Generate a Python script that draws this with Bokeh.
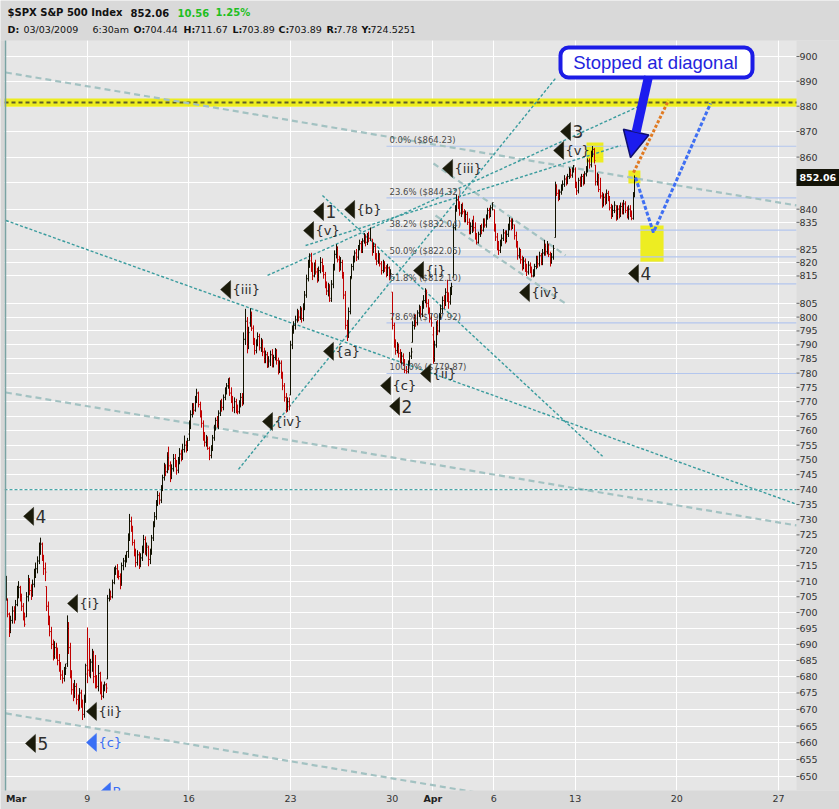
import math
from bokeh.plotting import figure
from bokeh.models import (Range1d, FixedTicker, Label, BoxAnnotation, Arrow, NormalHead,
                          ColumnDataSource)
from bokeh.core.properties import value
from bokeh.embed import file_html
from bokeh.resources import INLINE

# ---------------- data (30-minute bars, 13 per session) ----------------
dates = ["2009-03-03", "2009-03-04", "2009-03-05", "2009-03-06", "2009-03-09", "2009-03-10",
         "2009-03-11", "2009-03-12", "2009-03-13", "2009-03-16", "2009-03-17", "2009-03-18",
         "2009-03-19", "2009-03-20", "2009-03-23", "2009-03-24", "2009-03-25", "2009-03-26",
         "2009-03-27", "2009-03-30", "2009-03-31", "2009-04-01", "2009-04-02", "2009-04-03",
         "2009-04-06", "2009-04-07", "2009-04-08", "2009-04-09", "2009-04-13", "2009-04-14",
         "2009-04-15"]
prev_close = 700.82

opens = [
 [704.4, 703.9, 699.5, 694.0, 697.5, 700.5, 698.0, 702.5, 706.5, 708.0, 705.0, 702.0, 699.0],
 [698.6, 705.0, 709.5, 707.0, 706.0, 709.0, 712.5, 714.0, 716.5, 720.5, 722.0, 718.0, 714.0],
 [708.3, 702.0, 697.5, 694.0, 690.0, 686.5, 689.0, 687.5, 685.0, 683.5, 680.5, 679.5, 681.0],
 [684.0, 695.0, 689.0, 680.5, 676.0, 674.5, 677.0, 673.0, 671.0, 675.0, 672.0, 668.5, 673.0],
 [680.8, 682.0, 681.0, 684.5, 687.5, 680.0, 678.5, 677.0, 681.0, 676.0, 674.0, 676.5, 677.5],
 [679.3, 704.5, 706.5, 705.0, 709.5, 713.5, 714.0, 712.0, 711.5, 709.0, 715.0, 716.5, 717.0],
 [719.6, 724.0, 729.5, 727.0, 722.5, 719.0, 716.0, 718.5, 715.0, 717.5, 720.0, 723.5, 719.5],
 [720.9, 717.0, 719.5, 724.0, 728.5, 731.0, 735.5, 738.0, 736.5, 740.5, 744.0, 747.5, 746.0],
 [752.0, 748.0, 744.5, 747.0, 750.5, 749.0, 746.5, 749.5, 752.0, 751.0, 753.5, 755.0, 754.0],
 [758.8, 762.0, 765.5, 768.0, 767.0, 770.5, 773.0, 769.0, 766.0, 762.5, 758.0, 756.0, 757.0],
 [753.9, 751.5, 754.0, 757.5, 761.0, 763.5, 762.0, 766.0, 769.5, 768.0, 771.5, 774.0, 775.5],
 [776.0, 773.0, 770.5, 768.0, 770.0, 767.5, 766.5, 769.0, 771.5, 770.0, 792.0, 798.5, 790.0],
 [797.9, 800.5, 796.0, 791.5, 788.0, 790.5, 793.0, 789.0, 791.0, 787.5, 785.0, 786.5, 782.5],
 [784.6, 786.5, 783.0, 785.5, 788.0, 784.5, 781.0, 783.5, 779.5, 775.5, 771.5, 767.5, 770.0],
 [772.3, 790.0, 795.5, 797.0, 799.0, 801.5, 800.0, 802.5, 799.5, 803.5, 808.0, 814.0, 819.5],
 [820.6, 818.5, 815.0, 819.0, 816.5, 814.0, 817.0, 820.0, 818.0, 815.5, 812.0, 809.5, 811.0],
 [806.8, 812.0, 818.5, 823.0, 825.5, 821.0, 818.0, 820.0, 815.0, 808.0, 797.0, 793.5, 802.0],
 [814.1, 818.5, 821.0, 823.5, 822.0, 825.5, 827.0, 824.5, 828.0, 829.5, 827.5, 830.0, 829.0],
 [828.7, 824.5, 826.0, 822.0, 820.5, 823.0, 819.5, 817.0, 819.5, 818.0, 816.0, 818.0, 815.0],
 [809.1, 797.0, 790.5, 788.0, 789.5, 787.0, 784.5, 786.0, 783.5, 781.0, 780.5, 783.0, 786.0],
 [790.9, 797.0, 799.5, 798.0, 801.5, 803.0, 801.0, 804.5, 806.0, 808.5, 805.0, 802.5, 799.5],
 [793.6, 785.5, 790.0, 797.0, 795.0, 800.5, 803.0, 806.0, 805.0, 809.0, 807.0, 805.5, 809.5],
 [814.5, 833.0, 840.0, 843.5, 841.0, 838.5, 841.5, 839.0, 836.5, 838.0, 835.0, 832.0, 833.5],
 [835.1, 833.0, 829.5, 827.5, 830.5, 833.0, 832.0, 835.5, 834.0, 837.0, 839.5, 838.0, 840.5],
 [839.8, 833.0, 829.5, 826.0, 824.5, 827.0, 829.0, 831.0, 828.5, 830.5, 833.0, 835.5, 833.5],
 [834.1, 830.0, 826.5, 822.5, 824.0, 821.0, 818.5, 820.5, 818.0, 816.5, 819.0, 817.5, 815.0],
 [816.8, 818.5, 821.0, 819.5, 822.5, 820.0, 823.5, 826.0, 824.0, 826.5, 823.0, 820.5, 822.0],
 [829.3, 848.5, 846.0, 844.5, 846.5, 848.0, 849.5, 851.5, 850.0, 852.5, 854.5, 853.0, 855.0],
 [855.3, 849.0, 847.0, 851.0, 849.5, 852.5, 850.0, 853.5, 855.0, 858.5, 857.0, 861.5, 863.0],
 [856.9, 850.5, 852.0, 847.5, 845.0, 842.0, 844.5, 843.0, 846.0, 844.0, 840.5, 838.0, 839.5],
 [839.4, 837.5, 840.0, 838.0, 841.0, 839.0, 842.0, 839.5, 837.5, 840.0, 838.0, 836.5, 845.0],
]
highs = [
 [711.7, 704.5, 700.0, 699.0, 702.0, 702.0, 704.0, 708.5, 710.0, 708.5, 706.0, 703.0, 700.0],
 [706.5, 712.0, 711.0, 709.0, 710.5, 714.0, 716.0, 718.0, 722.5, 724.1, 722.5, 718.5, 716.0],
 [708.3, 703.5, 699.0, 695.5, 691.5, 691.0, 690.5, 689.0, 687.0, 684.5, 682.0, 683.0, 684.0],
 [699.1, 697.0, 690.5, 682.0, 678.0, 679.0, 678.0, 674.5, 676.5, 676.0, 673.0, 674.5, 684.0],
 [695.3, 692.0, 685.5, 688.6, 688.0, 686.7, 680.5, 683.6, 681.5, 678.5, 677.6, 678.5, 678.0],
 [705.6, 707.6, 707.0, 710.5, 714.5, 715.0, 715.5, 713.5, 712.5, 716.0, 717.5, 718.5, 719.6],
 [725.5, 731.9, 731.0, 728.0, 723.5, 720.5, 720.0, 719.5, 719.0, 721.5, 725.0, 724.5, 722.5],
 [721.5, 720.5, 725.0, 729.5, 732.5, 736.5, 739.5, 739.0, 741.5, 745.0, 749.0, 748.5, 752.6],
 [754.5, 749.5, 748.5, 752.0, 752.0, 750.0, 751.0, 754.0, 753.5, 755.5, 758.3, 756.5, 757.5],
 [763.5, 767.0, 769.5, 769.5, 772.0, 774.5, 773.5, 770.0, 767.0, 763.5, 759.5, 758.5, 758.0],
 [754.5, 755.0, 758.5, 762.0, 764.5, 765.0, 767.0, 770.5, 771.0, 772.5, 775.0, 776.5, 778.1],
 [778.5, 775.0, 772.0, 771.5, 771.0, 769.0, 770.5, 773.0, 773.0, 794.5, 803.0, 800.0, 796.5],
 [803.2, 802.0, 797.0, 792.5, 792.0, 794.5, 794.0, 792.5, 792.0, 789.0, 788.0, 787.5, 786.0],
 [788.0, 788.5, 786.5, 788.9, 788.5, 785.5, 784.5, 784.5, 780.5, 776.5, 773.0, 771.5, 771.5],
 [791.5, 797.0, 798.5, 800.5, 803.0, 802.5, 804.0, 803.5, 805.0, 809.5, 815.5, 821.0, 823.4],
 [823.6, 820.0, 820.0, 821.0, 818.0, 818.5, 822.0, 821.5, 819.0, 816.5, 813.0, 812.5, 812.0],
 [813.5, 819.5, 824.5, 826.8, 826.0, 822.5, 822.0, 821.0, 816.5, 809.5, 799.0, 803.5, 815.0],
 [819.5, 822.5, 824.5, 825.0, 826.5, 828.5, 828.0, 829.0, 831.0, 830.5, 831.0, 831.5, 833.0],
 [828.7, 827.5, 827.0, 823.5, 824.5, 823.5, 820.5, 821.0, 820.5, 819.0, 819.5, 818.5, 817.5],
 [809.1, 798.0, 792.0, 791.0, 790.5, 788.5, 787.5, 787.0, 785.0, 782.5, 784.5, 787.5, 789.0],
 [798.5, 801.0, 801.0, 802.5, 804.5, 804.0, 806.0, 808.0, 810.5, 810.0, 806.5, 803.5, 801.0],
 [796.5, 791.5, 798.5, 799.0, 801.5, 804.5, 807.5, 808.0, 810.5, 813.6, 809.0, 811.0, 812.5],
 [834.5, 841.5, 845.6, 845.0, 843.0, 842.0, 842.5, 840.0, 839.5, 839.0, 836.5, 835.0, 836.0],
 [837.5, 835.0, 831.0, 831.5, 834.0, 834.5, 836.5, 836.5, 838.0, 840.5, 840.5, 841.5, 842.5],
 [839.8, 834.5, 831.0, 828.0, 828.5, 830.5, 832.5, 832.0, 832.0, 834.5, 837.0, 836.5, 836.5],
 [834.1, 831.5, 828.0, 825.5, 825.0, 822.5, 822.0, 821.5, 819.5, 820.5, 820.0, 818.5, 817.5],
 [819.5, 822.5, 822.5, 824.0, 823.5, 825.0, 828.4, 827.0, 828.0, 827.0, 824.0, 823.5, 826.5],
 [850.5, 849.5, 847.5, 847.5, 849.5, 851.0, 853.0, 852.5, 853.5, 856.0, 855.5, 856.0, 856.9],
 [856.0, 850.5, 852.0, 852.5, 853.5, 853.5, 854.5, 856.5, 859.5, 859.5, 862.5, 864.3, 863.5],
 [856.9, 854.0, 853.5, 852.0, 846.5, 846.0, 846.0, 847.5, 847.0, 845.0, 842.0, 841.5, 843.0],
 [841.5, 841.5, 841.5, 842.5, 842.5, 843.5, 843.0, 841.0, 841.5, 841.5, 839.5, 846.5, 852.9],
]
lows = [
 [703.9, 698.5, 692.3, 693.5, 696.5, 696.5, 697.5, 702.0, 704.5, 703.5, 700.5, 697.5, 695.5],
 [698.6, 703.5, 705.5, 704.0, 705.0, 708.0, 711.0, 712.5, 715.5, 718.5, 716.5, 712.0, 710.0],
 [700.5, 696.0, 692.5, 688.5, 685.0, 685.5, 685.5, 683.5, 681.5, 679.0, 677.9, 678.5, 680.5],
 [683.0, 687.0, 679.5, 674.5, 672.5, 673.5, 671.5, 669.5, 670.0, 670.5, 666.8, 667.5, 672.0],
 [678.0, 680.0, 679.5, 681.5, 678.0, 676.4, 676.4, 675.5, 674.6, 672.9, 673.4, 675.5, 675.0],
 [679.3, 703.5, 704.0, 704.5, 709.0, 712.0, 711.0, 710.5, 707.4, 708.5, 713.5, 714.5, 716.0],
 [717.5, 723.0, 726.0, 721.5, 718.0, 714.5, 715.0, 713.9, 714.5, 716.5, 719.0, 718.5, 718.0],
 [714.8, 715.5, 718.5, 723.0, 727.5, 730.0, 734.5, 735.0, 735.5, 739.5, 743.0, 744.5, 745.5],
 [746.5, 742.5, 743.5, 746.0, 747.5, 745.0, 745.5, 748.5, 749.5, 750.0, 752.5, 752.5, 753.0],
 [756.5, 760.5, 764.5, 765.5, 766.5, 769.5, 768.0, 764.5, 761.0, 756.5, 754.5, 754.5, 753.4],
 [749.9, 750.5, 753.0, 756.5, 760.0, 761.0, 760.5, 765.0, 766.5, 767.0, 770.5, 772.5, 774.5],
 [772.0, 769.5, 766.5, 766.0, 766.0, 765.6, 765.8, 768.0, 768.5, 769.0, 790.0, 787.0, 788.5],
 [796.5, 795.0, 790.0, 786.5, 787.0, 789.5, 788.0, 787.5, 786.0, 783.5, 783.5, 781.8, 782.0],
 [782.5, 782.0, 782.0, 784.5, 783.0, 779.5, 780.0, 778.0, 774.0, 770.0, 766.2, 766.5, 767.0],
 [772.3, 788.5, 794.0, 795.5, 798.0, 798.5, 799.0, 798.0, 798.5, 802.5, 807.0, 813.0, 818.0],
 [816.5, 813.5, 814.5, 815.5, 812.5, 813.0, 816.0, 816.5, 814.0, 810.5, 808.0, 807.5, 805.5],
 [805.5, 810.5, 817.0, 821.5, 820.0, 816.5, 817.0, 814.0, 806.5, 795.5, 791.4, 792.5, 801.0],
 [814.1, 817.0, 820.0, 820.5, 821.0, 824.5, 823.5, 823.5, 827.0, 826.0, 826.5, 827.5, 828.0],
 [822.5, 823.5, 821.0, 819.0, 819.5, 818.5, 815.5, 816.0, 816.5, 814.5, 815.0, 813.4, 814.0],
 [795.5, 789.0, 786.5, 787.0, 785.5, 783.5, 783.0, 782.5, 780.0, 779.8, 779.9, 782.5, 785.0],
 [790.9, 795.5, 796.5, 797.0, 800.0, 799.5, 800.0, 803.0, 805.0, 803.5, 801.0, 798.0, 796.5],
 [783.3, 784.0, 789.0, 793.5, 794.5, 799.0, 801.5, 803.0, 804.0, 805.5, 803.0, 804.5, 808.0],
 [814.5, 832.0, 839.0, 840.0, 837.5, 837.0, 838.0, 835.0, 835.0, 834.0, 830.5, 830.5, 831.0],
 [831.5, 828.5, 826.7, 827.0, 829.5, 830.5, 831.5, 833.0, 833.0, 836.0, 836.5, 837.0, 839.5],
 [831.5, 828.0, 824.5, 822.8, 823.5, 826.0, 828.0, 827.0, 827.5, 829.5, 832.0, 832.0, 832.5],
 [828.5, 825.5, 821.0, 821.5, 819.5, 817.0, 817.5, 816.5, 815.0, 815.5, 816.0, 814.5, 814.5],
 [814.8, 817.5, 818.0, 818.5, 819.0, 819.0, 822.5, 822.5, 823.0, 822.0, 818.5, 819.5, 821.0],
 [829.3, 845.0, 843.0, 843.5, 845.5, 847.0, 848.5, 849.0, 849.5, 851.5, 852.0, 852.0, 854.0],
 [848.0, 845.4, 846.0, 848.5, 848.5, 849.0, 849.5, 852.5, 854.0, 855.5, 856.0, 860.0, 857.5],
 [849.0, 849.0, 846.5, 844.0, 840.5, 841.0, 841.5, 842.0, 843.0, 839.5, 836.3, 837.0, 838.5],
 [835.6, 836.0, 836.5, 837.0, 838.0, 838.0, 838.5, 836.5, 836.0, 837.0, 835.8, 836.0, 844.5],
]
closes = [
 [703.9, 699.5, 694.0, 697.5, 700.5, 698.0, 702.5, 706.5, 708.0, 705.0, 702.0, 699.0, 696.3],
 [705.0, 709.5, 707.0, 706.0, 709.0, 712.5, 714.0, 716.5, 720.5, 722.0, 718.0, 714.0, 712.9],
 [702.0, 697.5, 694.0, 690.0, 686.5, 689.0, 687.5, 685.0, 683.5, 680.5, 679.5, 681.0, 682.6],
 [695.0, 689.0, 680.5, 676.0, 674.5, 677.0, 673.0, 671.0, 675.0, 672.0, 668.5, 673.0, 683.4],
 [682.0, 681.0, 684.5, 687.5, 680.0, 678.5, 677.0, 681.0, 676.0, 674.0, 676.5, 677.5, 676.5],
 [704.5, 706.5, 705.0, 709.5, 713.5, 714.0, 712.0, 711.5, 709.0, 715.0, 716.5, 717.0, 719.6],
 [724.0, 729.5, 727.0, 722.5, 719.0, 716.0, 718.5, 715.0, 717.5, 720.0, 723.5, 719.5, 721.4],
 [717.0, 719.5, 724.0, 728.5, 731.0, 735.5, 738.0, 736.5, 740.5, 744.0, 747.5, 746.0, 750.7],
 [748.0, 744.5, 747.0, 750.5, 749.0, 746.5, 749.5, 752.0, 751.0, 753.5, 755.0, 754.0, 756.6],
 [762.0, 765.5, 768.0, 767.0, 770.5, 773.0, 769.0, 766.0, 762.5, 758.0, 756.0, 757.0, 753.9],
 [751.5, 754.0, 757.5, 761.0, 763.5, 762.0, 766.0, 769.5, 768.0, 771.5, 774.0, 775.5, 778.1],
 [773.0, 770.5, 768.0, 770.0, 767.5, 766.5, 769.0, 771.5, 770.0, 792.0, 798.5, 790.0, 794.4],
 [800.5, 796.0, 791.5, 788.0, 790.5, 793.0, 789.0, 791.0, 787.5, 785.0, 786.5, 782.5, 784.0],
 [786.5, 783.0, 785.5, 788.0, 784.5, 781.0, 783.5, 779.5, 775.5, 771.5, 767.5, 770.0, 768.5],
 [790.0, 795.5, 797.0, 799.0, 801.5, 800.0, 802.5, 799.5, 803.5, 808.0, 814.0, 819.5, 822.9],
 [818.5, 815.0, 819.0, 816.5, 814.0, 817.0, 820.0, 818.0, 815.5, 812.0, 809.5, 811.0, 806.1],
 [812.0, 818.5, 823.0, 825.5, 821.0, 818.0, 820.0, 815.0, 808.0, 797.0, 793.5, 802.0, 813.9],
 [818.5, 821.0, 823.5, 822.0, 825.5, 827.0, 824.5, 828.0, 829.5, 827.5, 830.0, 829.0, 832.9],
 [824.5, 826.0, 822.0, 820.5, 823.0, 819.5, 817.0, 819.5, 818.0, 816.0, 818.0, 815.0, 815.9],
 [797.0, 790.5, 788.0, 789.5, 787.0, 784.5, 786.0, 783.5, 781.0, 780.5, 783.0, 786.0, 787.5],
 [797.0, 799.5, 798.0, 801.5, 803.0, 801.0, 804.5, 806.0, 808.5, 805.0, 802.5, 799.5, 797.9],
 [785.5, 790.0, 797.0, 795.0, 800.5, 803.0, 806.0, 805.0, 809.0, 807.0, 805.5, 809.5, 811.1],
 [833.0, 840.0, 843.5, 841.0, 838.5, 841.5, 839.0, 836.5, 838.0, 835.0, 832.0, 833.5, 834.4],
 [833.0, 829.5, 827.5, 830.5, 833.0, 832.0, 835.5, 834.0, 837.0, 839.5, 838.0, 840.5, 842.5],
 [833.0, 829.5, 826.0, 824.5, 827.0, 829.0, 831.0, 828.5, 830.5, 833.0, 835.5, 833.5, 835.5],
 [830.0, 826.5, 822.5, 824.0, 821.0, 818.5, 820.5, 818.0, 816.5, 819.0, 817.5, 815.0, 815.6],
 [818.5, 821.0, 819.5, 822.5, 820.0, 823.5, 826.0, 824.0, 826.5, 823.0, 820.5, 822.0, 825.2],
 [848.5, 846.0, 844.5, 846.5, 848.0, 849.5, 851.5, 850.0, 852.5, 854.5, 853.0, 855.0, 856.6],
 [849.0, 847.0, 851.0, 849.5, 852.5, 850.0, 853.5, 855.0, 858.5, 857.0, 861.5, 863.0, 858.7],
 [850.5, 852.0, 847.5, 845.0, 842.0, 844.5, 843.0, 846.0, 844.0, 840.5, 838.0, 839.5, 841.5],
 [837.5, 840.0, 838.0, 841.0, 839.0, 842.0, 839.5, 837.5, 840.0, 838.0, 836.5, 845.0, 852.06],
]

# axis labels
week_days = [4, 9, 14, 19, 24, 28, 33, 38]
week_labels = ["9", "16", "23", "30", "6", "13", "20", "27"]
month_days = [0, 21]
month_labels = ["Mar", "Apr"]
grid_days = [4, 9, 14, 19, 21, 24, 28, 33, 38]
price_ticks = list(range(650, 806, 5)) + [815, 820, 825, 835, 840, 850, 860, 870, 880, 890, 900]

# header
symbol_title = "$SPX S&P 500 Index"
last_change = "10.56"
last_change_pct = "1.25%"
cursor_bar = [("D:", "03/03/2009"), ("", "6:30am"), ("O:", "704.44"), ("H:", "711.67"),
              ("L:", "703.89"), ("C:", "703.89"), ("R:", "7.78"), ("Y:", "724.5251")]

# Fibonacci retracement
fib_pct = ["0.0%", "23.6%", "38.2%", "50.0%", "61.8%", "78.6%", "100.0%"]
fib_level = [864.23, 844.32, 832.04, 822.05, 812.10, 797.92, 779.87]
fib_start_day = 18.72

# Elliott wave labels (tip of marker: day, price)
wave_text = ["4", "{i}", "{ii}", "5", "{c}", "B", "{iii}", "{iv}", "1", "{v}", "{b}", "{a}",
             "{i}", "{c}", "2", "{ii}", "{iii}", "{iv}", "3", "{v}", "4"]
wave_day = [0.87, 3.03, 3.96, 0.96, 3.96, 4.65, 10.56, 12.62, 15.13, 14.64, 16.66, 15.62,
            20.05, 18.43, 18.87, 20.39, 21.48, 25.26, 27.28, 26.94, 30.62]
wave_price = [731.1, 702.9, 669.4, 659.8, 660.1, 645.6, 810.0, 763.1, 839.1, 831.9, 839.9, 787.7,
              817.0, 775.6, 768.4, 779.9, 855.6, 808.9, 870.0, 862.6, 815.9]
wave_blue = [False, False, False, False, True, True] + [False] * 15

# trend lines: (day0, price0, day1, price1)
dotted_lines = [
    (0.0, 835.7, 38.9, 735.1),
    (11.44, 746.8, 27.03, 891.1),
    (15.57, 845.2, 29.35, 751.2),
    (12.87, 815.2, 31.56, 881.5),
    (14.74, 826.3, 30.23, 864.5),
]
support_level = 740.0
dashed_lines = [
    (0.0, 893.5, 38.9, 841.4),
    (0.0, 773.2, 38.9, 728.1),
    (0.0, 668.8, 38.9, 629.8),
    (21.03, 857.5, 27.53, 822.6),
    (21.13, 837.6, 27.53, 804.9),
]
resistance = 881.5
resistance_band = (879.8, 883.1)
orange_path_day = [30.87, 32.59]
orange_path_price = [854.0, 882.3]
blue_path_day = [30.97, 31.85, 34.66]
blue_path_price = [852.1, 831.2, 881.1]
highlight_boxes = [(28.56, 29.39, 857.9, 865.7), (30.62, 31.21, 849.8, 854.8),
                   (31.21, 32.35, 820.3, 833.8)]

# ---------------- geometry ----------------
W, H = 839, 809
PL, PR, PT, PB = 4, 796, 40, 790            # price panel edges in canvas pixels
X0, X1 = -0.069, 38.888                     # days at panel left / right edge
Y0, Y1 = 645.9, 906.53                      # prices at panel bottom / top edge
DAY_PER_PX = (X1 - X0) / (PR - PL)
LN_PER_PX = math.log(Y1 / Y0) / (PB - PT)


def sx(px):
    return X0 + (px - PL) * DAY_PER_PX


def sy(py):
    return Y1 * math.exp(-(py - PT) * LN_PER_PX)


def up(price, px):
    return price * math.exp(px * LN_PER_PX)


def snap(day):
    # place each bar on a whole pixel column so it is drawn crisp
    px = (day - sx(0)) / DAY_PER_PX
    return sx(math.floor(px))


FONT = "DejaVu Sans"
p = figure(width=W, height=H, x_range=Range1d(sx(0), sx(W)), y_range=Range1d(sy(H), sy(0)),
           y_axis_type="log", output_backend="svg", toolbar_location=None,
           min_border_left=0, min_border_right=0, min_border_top=0, min_border_bottom=0)
p.xaxis.visible = False
p.yaxis.visible = False
p.background_fill_color = "#e6e6e6"
p.border_fill_color = "#dadada"
p.outline_line_color = None

p.xgrid.ticker = FixedTicker(ticks=grid_days)
p.ygrid.ticker = FixedTicker(ticks=price_ticks)
p.xgrid.grid_line_color = "white"
p.ygrid.grid_line_color = "white"
p.xgrid.grid_line_width = 1
p.ygrid.grid_line_width = 1

# resistance band
p.quad(left=sx(0), right=sx(799), bottom=resistance_band[0], top=resistance_band[1],
       fill_color="#ecec1e", line_color=None)
p.segment(x0=[sx(4)], y0=[resistance], x1=[sx(799)], y1=[resistance], line_color="#5e5e2a",
          line_width=2, line_dash="4 3")

# highlight boxes
p.quad(left=[b[0] for b in highlight_boxes], right=[b[1] for b in highlight_boxes],
       bottom=[b[2] for b in highlight_boxes], top=[b[3] for b in highlight_boxes],
       fill_color="#eded22", line_color=None)

# fib lines
p.segment(x0=[fib_start_day] * len(fib_level), y0=fib_level, x1=[X1] * len(fib_level),
          y1=fib_level, line_color="#b3c6ee", line_width=1.2)

# trend lines
p.segment(x0=[l[0] for l in dashed_lines], y0=[l[1] for l in dashed_lines],
          x1=[l[2] for l in dashed_lines], y1=[l[3] for l in dashed_lines],
          line_color="#a3c2c2", line_width=2.2, line_dash="6 4")
p.segment(x0=[l[0] for l in dotted_lines], y0=[l[1] for l in dotted_lines],
          x1=[l[2] for l in dotted_lines], y1=[l[3] for l in dotted_lines],
          line_color="#3a9c9e", line_width=1.4, line_dash="3 2")
p.segment(x0=[X0], y0=[support_level], x1=[X1], y1=[support_level],
          line_color="#4aa6a8", line_width=1.3, line_dash="3 2")

# ---------------- OHLC bars ----------------
bx, bo, bh, bl, bc, bcol = [], [], [], [], [], []
last = prev_close
n = 13
for d in range(len(dates)):
    for k in range(n):
        o, h, l, c = opens[d][k], highs[d][k], lows[d][k], closes[d][k]
        bx.append(snap(d + (k + 0.5) / n))
        bo.append(o)
        bh.append(max(h, o, c))
        bl.append(min(l, o, c))
        bc.append(c)
        bcol.append("#111100" if c >= last else "#c00000")
        last = c
tick = DAY_PER_PX * 1.0
src = ColumnDataSource(dict(x=bx, o=bo, h=bh, l=bl, c=bc, col=bcol,
                            xl=[v - tick for v in bx], xr=[v + tick for v in bx]))
p.segment(x0="x", y0="l", x1="x", y1="h", source=src, line_color="col", line_width=1)
p.segment(x0="xl", y0="o", x1="x", y1="o", source=src, line_color="col", line_width=1)
p.segment(x0="x", y0="c", x1="xr", y1="c", source=src, line_color="col", line_width=1)

# fib labels
p.text(x=[sx(389)] * len(fib_level), y=[up(v, 1) for v in fib_level],
       text=[f"{a}  (${b:.2f})" for a, b in zip(fib_pct, fib_level)],
       text_font=value(FONT), text_font_size="8.5px", text_color="#4a4a4a",
       text_baseline="bottom", text_align="left")

# projected paths
p.line(orange_path_day, orange_path_price, line_color="#e07a22", line_width=3, line_dash="3 2")
p.line(blue_path_day, blue_path_price, line_color="#3f6ff2", line_width=3, line_dash="4 2")

# wave labels
tri_xs, tri_ys = [], []
for d0, p0 in zip(wave_day, wave_price):
    tri_xs.append([d0, d0 + 10 * DAY_PER_PX, d0 + 10 * DAY_PER_PX])
    tri_ys.append([p0, up(p0, 9), up(p0, -9)])
wcol = ["#3a6ff5" if b else "#1a1a0a" for b in wave_blue]
tcol = ["#3a6ff5" if b else "#2e2e2e" for b in wave_blue]
p.patches(tri_xs, tri_ys, fill_color=wcol, line_color=wcol, line_width=0.5)
wsrc = ColumnDataSource(dict(
    x=[d0 + 12 * DAY_PER_PX for d0 in wave_day], y=wave_price, t=wave_text, c=tcol,
    fs=["17px" if t.isdigit() else "13px" for t in wave_text]))
p.text(x="x", y="y", text="t", source=wsrc, text_color="c", text_font_size="fs",
       text_font=value(FONT), text_baseline="middle", text_align="left")

# ---------------- frame bands (header, axis strip, date strip) ----------------
p.quad(left=[sx(0), sx(0), sx(PR), sx(0)], right=[sx(W), sx(W), sx(W), sx(PL)],
       bottom=[Y1, sy(H), Y0, Y0], top=[sy(0), Y0, Y1, Y1],
       fill_color=["#d9d9d9", "#d9d9d9", "#dddddd", "#d6d6d6"], line_color=None)
p.segment(x0=[sx(5)], y0=[Y0], x1=[sx(5)], y1=[Y1], line_color="#7aa3a3", line_width=1.5)

# price axis (right)
ylab = [t for t in price_ticks if t != 850]
p.segment(x0=[X1] * len(price_ticks), y0=price_ticks, x1=[sx(PR + 3)] * len(price_ticks),
          y1=price_ticks, line_color="#666666", line_width=1)
p.text(x=[sx(PR + 3)] * len(ylab), y=ylab, text=[str(t) for t in ylab],
       text_font=value(FONT), text_font_size="9.5px", text_color="#333333",
       text_baseline="middle", text_align="left")
# last price marker
last_price = closes[-1][-1]
p.quad(left=[X1], right=[sx(W)], bottom=[up(last_price, -8.5)], top=[up(last_price, 8.5)],
       fill_color="#141408", line_color=None)
p.text(x=[sx(PR + 3)], y=[last_price], text=[f"{last_price:.2f}"], text_font=value(FONT),
       text_font_size="9.5px", text_font_style="bold", text_color="white",
       text_baseline="middle", text_align="left")

# date axis (below)
p.text(x=week_days, y=[sy(798)] * len(week_days), text=week_labels, text_font=value(FONT),
       text_font_size="9.5px", text_color="#333333", text_baseline="middle",
       text_align="center")
p.text(x=[month_days[0]], y=[sy(798)], text=[month_labels[0]], text_font=value(FONT),
       text_font_size="9.5px", text_font_style="bold", text_color="#222222",
       text_baseline="middle", text_align="left")
p.text(x=month_days[1:], y=[sy(798)], text=month_labels[1:], text_font=value(FONT),
       text_font_size="9.5px", text_font_style="bold", text_color="#222222",
       text_baseline="middle", text_align="center")

# header texts
h1_text = [symbol_title, f"{last_price:.2f}", last_change, last_change_pct]
h1_x = [7, 130, 177, 215]
h1_col = ["#111111", "#111111", "#1fbf1f", "#1fbf1f"]
p.text(x=[sx(v) for v in h1_x], y=[sy(12)] * 4, text=h1_text, text_color=h1_col,
       text_font=value(FONT), text_font_size="10px", text_font_style="bold",
       text_baseline="middle", text_align="left")
h2_key_x = [7, None, 133, 183, 232, 278, 326, 361]
h2_val_x = [23, 92, 144, 194, 241, 288, 336, 370]
keys = [(k, x) for (k, _), x in zip(cursor_bar, h2_key_x) if k]
p.text(x=[sx(x) for _, x in keys], y=[sy(29)] * len(keys), text=[k for k, _ in keys],
       text_font=value(FONT), text_font_size="9.5px", text_font_style="bold",
       text_color="#111111", text_baseline="middle", text_align="left")
p.text(x=[sx(x) for x in h2_val_x], y=[sy(29)] * len(h2_val_x),
       text=[v for _, v in cursor_bar], text_font=value(FONT), text_font_size="9.5px",
       text_color="#111111", text_baseline="middle", text_align="left")

# ---------------- callout ----------------
p.add_layout(BoxAnnotation(left=sx(560), right=sx(752), top=sy(47), bottom=sy(77),
                           fill_color="white", fill_alpha=1, line_color="#1c1ce6",
                           line_alpha=1, line_width=4, border_radius=8))
p.add_layout(Label(x=sx(655), y=sy(62), text="Stopped at diagonal", text_align="center",
                   text_baseline="middle", text_color="#2424dd", text_font_size="18.5px",
                   text_font="Liberation Sans"))
p.add_layout(Arrow(end=NormalHead(size=26, fill_color="#1c1cee", line_color="#101070",
                                  line_width=1.5),
                   x_start=sx(648), y_start=sy(76), x_end=sx(630), y_end=sy(157),
                   line_color="#1c1cee", line_width=9))

open("out.html", "w").write(file_html(p, INLINE))
